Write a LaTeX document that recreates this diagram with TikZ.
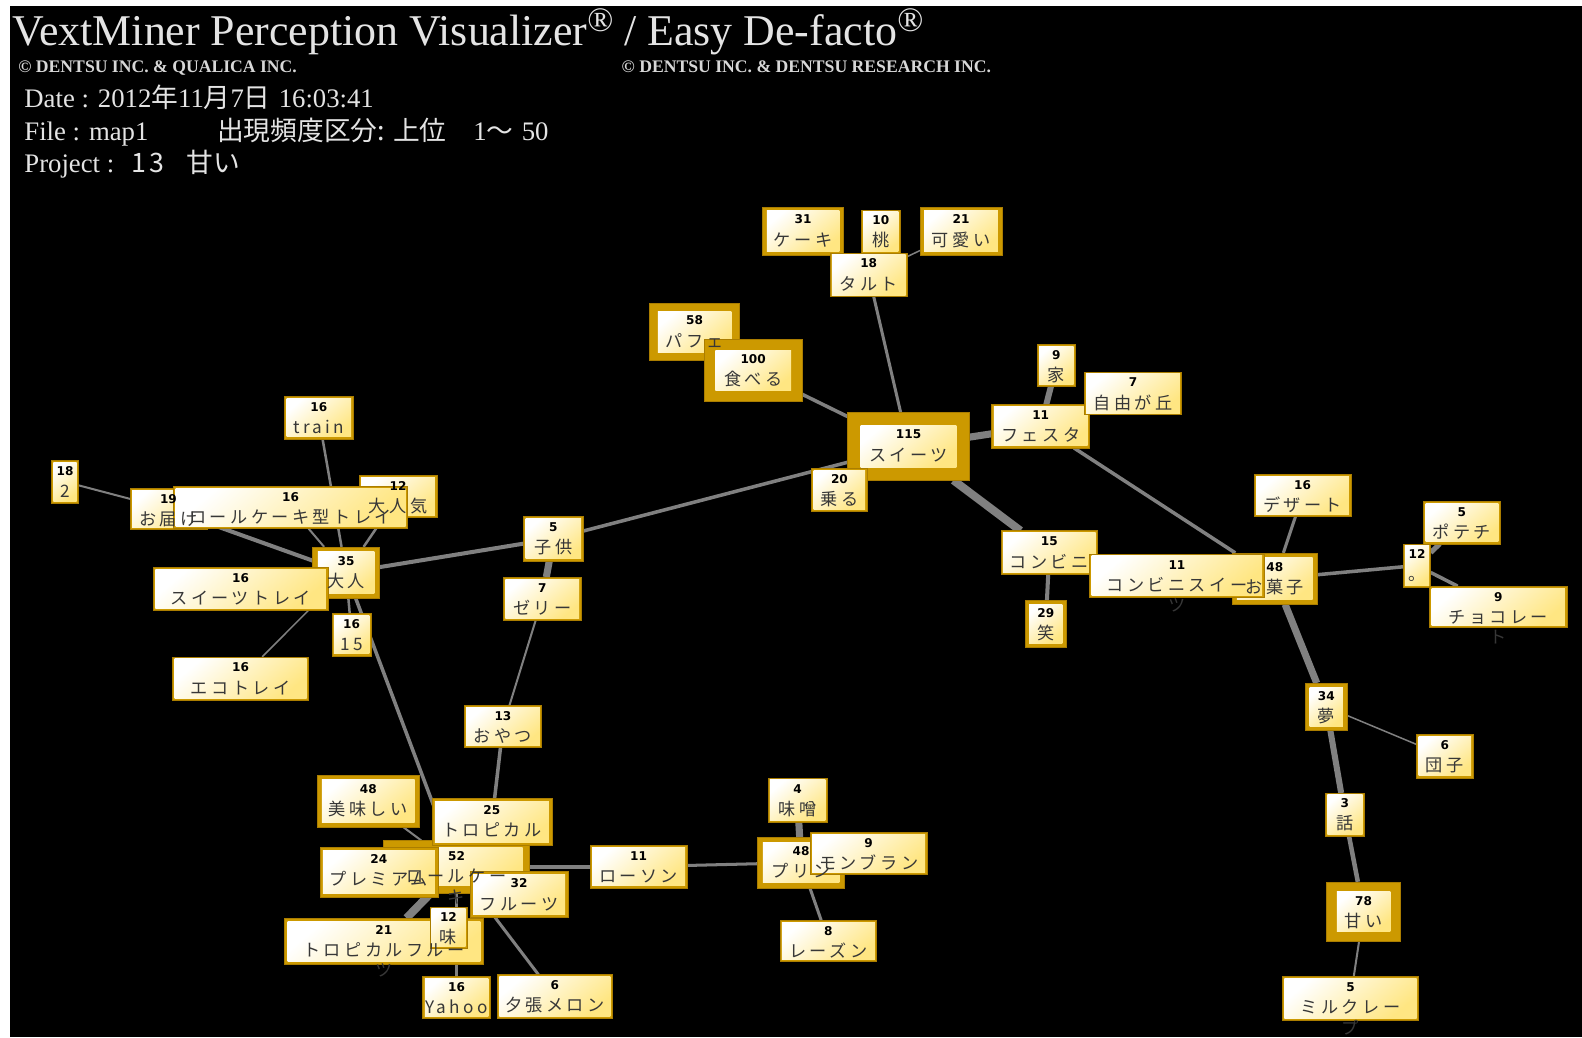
\documentclass[tikz,border=0pt]{standalone}
\usepackage{fontspec}
\setmainfont{Liberation Serif}
\newfontfamily\jp{Noto Sans CJK JP}
\newfontfamily\jplab[LetterSpace=20]{Noto Sans CJK JP}
\newfontfamily\numf{DejaVu Sans}
\usetikzlibrary{calc}
\pgfdeclarelayer{back}\pgfdeclarelayer{bg}\pgfdeclarelayer{fg}
\pgfsetlayers{back,bg,main,fg}
\definecolor{gold}{RGB}{204,153,0}
\definecolor{golddark}{RGB}{170,125,0}
\definecolor{edgec}{RGB}{128,128,128}
\definecolor{boxyel}{RGB}{255,230,130}
\definecolor{labc}{RGB}{55,55,55}
\definecolor{hdr}{RGB}{228,228,228}
\definecolor{hdrsmall}{RGB}{215,215,215}
\newcommand\regmark{\raisebox{14pt}{\fontsize{34}{34}\selectfont ®}}
\newcommand\hjp{\jp\fontsize{26.5}{27}\selectfont}
\tikzset{
  edgeline/.style={draw=edgec, line cap=butt},
  boxouter/.style={fill=gold, draw=golddark, line width=0.6pt, inner sep=0pt, outer sep=0pt},
  boxinner/.style={top color=white, bottom color=boxyel, shading angle=40},
  numtext/.style={font=\numf\bfseries\fontsize{12}{12}\selectfont, text=black, anchor=base, inner sep=0pt},
  labtext/.style={font=\jplab\fontsize{17}{18}\selectfont, text=labc, anchor=base, inner sep=0pt},
  hdrtext/.style={text=hdr, anchor=base west, inner sep=0pt},
  hdrlatin/.style={hdrtext, font=\fontsize{26.5}{27}\selectfont},
  hdrjp/.style={hdrtext, font=\hjp},
  hdrcopy/.style={hdrtext, text=hdrsmall, font=\bfseries\fontsize{17.5}{18}\selectfont},
}
% name, x1, y1, x2, y2, border, number, label
\newcommand\kw[8]{%
  \pgfmathsetmacro\kwcx{(#2+#4)/2}%
  \pgfmathsetmacro\kwcy{(#3+#5)/2}%
  \pgfmathsetmacro\kww{#4-#2}%
  \pgfmathsetmacro\kwh{#5-#3}%
  \pgfmathsetmacro\kwny{#3+#6+13}%
  \pgfmathsetmacro\kwly{#3+#6+35}%
  \node[boxouter, minimum width=\kww pt, minimum height=\kwh pt] (#1) at (\kwcx,\kwcy) {};
  \shade[boxinner] ($(#1.north west)+(#6,#6)$) rectangle ($(#1.south east)+(-#6,-#6)$);
  \begin{pgfonlayer}{fg}
    \node[numtext] (#1-n) at (\kwcx,\kwny) {#7};
    \node[labtext] (#1-l) at (\kwcx,\kwly) {#8};
  \end{pgfonlayer}%
}
\newcommand\kwwrap[2]{%
  \begin{pgfonlayer}{fg}
    \node[labtext] at ($(#1-l.base)+(0,20)$) {#2};
  \end{pgfonlayer}%
}
\begin{document}
\begin{tikzpicture}[x=1pt,y=-1pt]
\useasboundingbox (0,0) rectangle (1568,1028);
\begin{pgfonlayer}{back}
  \fill[white] (0,0) rectangle (1568,1028);
  \fill[black] (10,6) rectangle (1568,1028);
\end{pgfonlayer}

% header
\node[hdrtext, font=\fontsize{43.5}{44}\selectfont] (title) at (12,45.5)
  {VextMiner Perception Visualizer\regmark{} / Easy De-facto\regmark};
\node[hdrcopy] (copy1) at (18,72) {© DENTSU INC. \& QUALICA INC.};
\node[hdrcopy] (copy2) at (616,72) {© DENTSU INC. \& DENTSU RESEARCH INC.};
\node[hdrlatin] (date) at (24,107)
  {Date : 2012{\hjp 年}11{\hjp 月}7{\hjp 日}\hspace{8pt}16:03:41};
\node[hdrlatin] (file) at (24,139) {File : map1};
\node[hdrjp] (freqa) at (215,139) {出現頻度区分:\hspace{8pt}上位};
\node[hdrlatin] (freqc) at (469,139) {1{\hjp 〜}};
\node[hdrlatin] (freqd) at (517,139) {50};
\node[hdrlatin] (proj) at (24,171) {Project :};
\node[hdrjp] (projn) at (130,171) {1\hspace{3pt}3};
\node[hdrjp] (projw) at (185,171) {甘い};

% keyword boxes
\kw{parfait}{644}{301}{733}{357}{8}{58}{パフェ}
\kw{taberu}{698}{336}{795}{398}{11}{100}{食べる}
\kw{cake}{756}{205}{836}{253}{4}{31}{ケーキ}
\kw{momo}{854}{208}{892}{251}{1.5}{10}{桃}
\kw{kawaii}{912}{205}{993}{253}{4}{21}{可愛い}
\kw{tart}{823}{251}{899}{294}{1.5}{18}{タルト}
\kw{sweets}{840}{409}{961}{476}{13}{115}{スイーツ}
\kw{noru}{804}{464}{860}{507}{2.5}{20}{乗る}
\kw{ie}{1028}{341}{1066}{383}{2}{9}{家}
\kw{festa}{983}{401}{1080}{444}{2}{11}{フェスタ}
\kw{jiyu}{1075}{369}{1171}{411}{1.5}{7}{自由が丘}
\kw{conv}{992}{526}{1088}{569}{2}{15}{コンビニ}
\kw{warai}{1016}{595}{1057}{642}{4}{29}{笑}
\kw{okashi}{1221}{548}{1306}{599}{5}{48}{お菓子}
\kw{convsw}{1080}{549}{1253}{592}{2}{11}{コンビニスイー}
\kwwrap{convsw}{ツ}
\kw{dessert}{1243}{470}{1339}{512}{2}{16}{デザート}
\kw{potechi}{1411}{497}{1487}{539}{2}{5}{ポテチ}
\kw{maru}{1391}{539}{1418}{582}{1.5}{12}{。}
\kw{choco}{1417}{581}{1553}{622}{2}{9}{チョコレー}
\kwwrap{choco}{ト}
\kw{yume}{1294}{677}{1335}{724}{4}{34}{夢}
\kw{dango}{1404}{728}{1460}{771}{2}{6}{団子}
\kw{hanashi}{1314}{786}{1352}{829}{1.5}{3}{話}
\kw{amai}{1315}{874}{1388}{933}{10}{78}{甘い}
\kw{mille}{1271}{968}{1406}{1011}{2}{5}{ミルクレー}
\kwwrap{mille}{プ}

\kw{two}{51}{456}{78}{499}{2}{18}{2}
\kw{train}{282}{393}{350}{435}{2}{16}{train}
\kw{otodoke}{129}{484}{205}{525}{2}{19}{お届け}
\kw{ninki}{356}{471}{433}{513}{2}{12}{大人気}
\kw{rolltray}{172}{482}{404}{524}{2}{16}{ロールケーキ型トレイ}
\kw{otona}{310}{542}{376}{593}{5}{35}{大人}
\kw{swtray}{152}{562}{325}{605}{2}{16}{スイーツトレイ}
\kw{fifteen}{329}{608}{368}{650}{2}{16}{15}
\kw{eco}{171}{651}{306}{694}{2}{16}{エコトレイ}
\kw{kodomo}{519}{512}{578}{556}{2}{5}{子供}
\kw{jelly}{499}{572}{576}{615}{2}{7}{ゼリー}
\kw{oyatsu}{460}{699}{537}{741}{2}{13}{おやつ}
\kw{oishii}{314}{768}{416}{820}{5}{48}{美味しい}
\kw{rollcake}{380}{833}{525}{885}{7}{52}{ロールケー}
\kwwrap{rollcake}{キ}
\kw{tropical}{428}{791}{547}{838}{3}{25}{トロピカル}
\kw{premium}{317}{840}{434}{889}{3}{24}{プレミアム}
\kw{fruits}{466}{864}{563}{909}{3}{32}{フルーツ}
\kw{tropfruit}{282}{910}{479}{956}{3}{21}{トロピカルフルー}
\kwwrap{tropfruit}{ツ}
\kw{aji}{426}{899}{463}{940}{1.5}{12}{味}
\kw{yahoo}{419}{968}{486}{1009}{2}{16}{Yahoo}
\kw{yubari}{493}{966}{607}{1009}{2}{6}{夕張メロン}
\kw{lawson}{585}{838}{681}{880}{2}{11}{ローソン}
\kw{purin}{751}{830}{837}{880}{5}{48}{プリン}
\kw{montblanc}{803}{825}{919}{867}{2}{9}{モンブラン}
\kw{miso}{761}{771}{820}{815}{2}{4}{味噌}
\kw{raisin}{773}{912}{869}{953}{2}{8}{レーズン}

% connectors
\begin{pgfonlayer}{bg}
\draw[edgeline, line width=3] (sweets) -- (tart);
\draw[edgeline, line width=1.5] (tart) -- (kawaii);
\draw[edgeline, line width=3.5] (sweets) -- (taberu);
\draw[edgeline, line width=7] (sweets) -- (festa);
\draw[edgeline, line width=8] (sweets) -- (conv);
\draw[edgeline, line width=3.5] (sweets) -- (kodomo);
\draw[edgeline, line width=6] (festa) -- (ie);
\draw[edgeline, line width=3.5] (festa) -- (okashi);
\draw[edgeline, line width=4] (conv) -- (warai);
\draw[edgeline, line width=3] (okashi) -- (dessert);
\draw[edgeline, line width=3.5] (okashi) -- (maru);
\draw[edgeline, line width=5] (maru) -- (potechi);
\draw[edgeline, line width=3.5] (maru) -- (choco);
\draw[edgeline, line width=7] (okashi) -- (yume);
\draw[edgeline, line width=1.5] (yume) -- (dango);
\draw[edgeline, line width=6] (yume) -- (hanashi);
\draw[edgeline, line width=4.5] (hanashi) -- (amai);
\draw[edgeline, line width=2] (amai) -- (mille);
\draw[edgeline, line width=4] (kodomo) -- (otona);
\draw[edgeline, line width=7] (kodomo) -- (jelly);
\draw[edgeline, line width=2] (jelly) -- (oyatsu);
\draw[edgeline, line width=3.5] (oyatsu) -- (tropical);
\draw[edgeline, line width=2] (two) -- (otodoke);
\draw[edgeline, line width=4] (otodoke) -- (otona);
\draw[edgeline, line width=2.5] (train) -- (otona);
\draw[edgeline, line width=2.5] (ninki) -- (otona);
\draw[edgeline, line width=2] (rolltray) -- (otona);
\draw[edgeline, line width=1.5] (eco) -- (otona);
\draw[edgeline, line width=2.5] (fifteen) -- (otona);
\draw[edgeline, line width=3.5] (otona) -- (rollcake);
\draw[edgeline, line width=2] (oishii) -- (rollcake);
\draw[edgeline, line width=4] (rollcake) -- (lawson);
\draw[edgeline, line width=3] (lawson) -- (purin);
\draw[edgeline, line width=7] (purin) -- (miso);
\draw[edgeline, line width=3] (purin) -- (raisin);
\draw[edgeline, line width=8] (rollcake) -- (tropfruit);
\draw[edgeline, line width=2.5] (rollcake) -- (yahoo);
\draw[edgeline, line width=3] (rollcake) -- (yubari);
\end{pgfonlayer}
\end{tikzpicture}
\end{document}
